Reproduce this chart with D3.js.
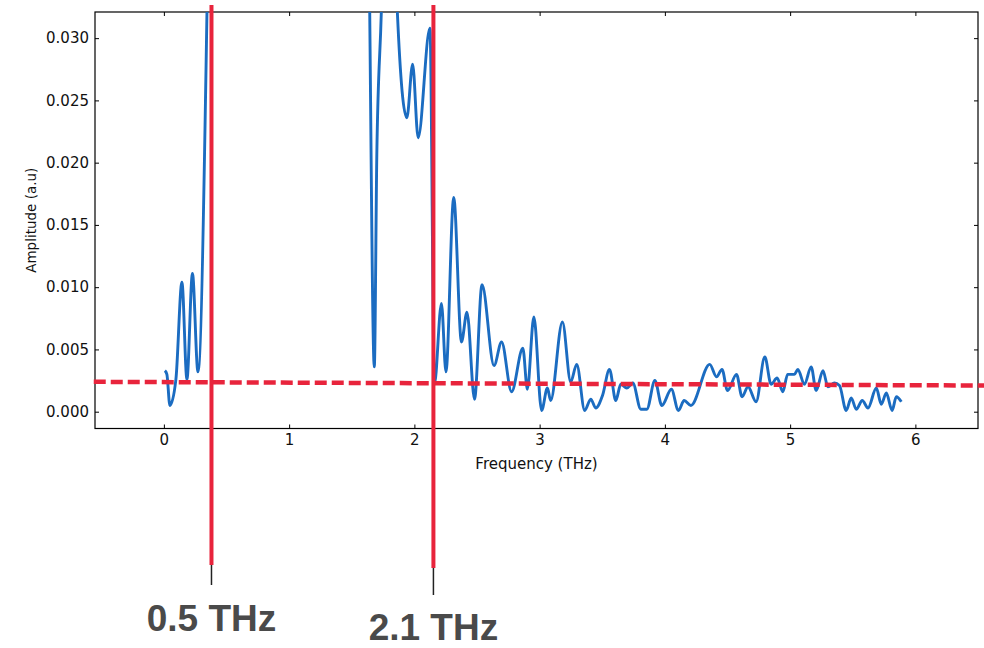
<!DOCTYPE html>
<html>
<head>
<meta charset="utf-8">
<script src="https://cdn.jsdelivr.net/npm/d3@7"></script>
<style>
  body { margin: 0; background: #fff; }
  svg { display: block; font-family: "DejaVu Sans", sans-serif; }
</style>
</head>
<body>
<svg id="chart" width="984" height="648"></svg>
<script>
// spectrum (THz, a.u); values above 0.032 run off the top of the plot
const freq = [0.008, 0.024, 0.048, 0.096, 0.144, 0.184, 0.228, 0.272, 0.344, 0.37, 0.5, 1.0, 1.6,
  1.64, 1.68, 1.70, 1.736, 1.8, 1.864, 1.94, 1.986, 2.03, 2.124,
  2.16, 2.216, 2.252, 2.314, 2.376, 2.42, 2.48, 2.54, 2.636, 2.696, 2.776, 2.866, 2.902, 2.954,
  3.016, 3.062, 3.088, 3.182, 3.248, 3.296, 3.36, 3.408, 3.448, 3.502, 3.558, 3.608, 3.648, 3.696,
  3.744, 3.808, 3.856, 3.92, 3.976, 4.052, 4.108, 4.154, 4.208, 4.358, 4.412, 4.456, 4.5, 4.572,
  4.616, 4.664, 4.728, 4.798, 4.848, 4.896, 4.942, 4.98, 5.034, 5.062, 5.114, 5.168, 5.208, 5.262,
  5.302, 5.354, 5.394, 5.448, 5.488, 5.528, 5.576, 5.622, 5.688, 5.728, 5.768, 5.814, 5.848, 5.888];
const amp = [0.0033, 0.0030, 0.0005, 0.0026, 0.0104, 0.0026, 0.0111, 0.0032, 0.0321, 0.05, 0.09, 0.15, 0.08,
  0.0356, 0.0036, 0.0206, 0.0321, 0.06, 0.0321, 0.0236, 0.0279, 0.0220, 0.0308,
  0.0022, 0.0087, 0.0032, 0.0172, 0.0056, 0.0080, 0.0010, 0.0102, 0.0037, 0.0056, 0.0016, 0.0051, 0.0018, 0.0076,
  0.0001, 0.0019, 0.0009, 0.0072, 0.0024, 0.0038, 0.0001, 0.0010, 0.0003, 0.0013, 0.0034, 0.0009, 0.0022, 0.0019,
  0.0023, 0.0002, 0.0002, 0.0025, 0.0005, 0.0018, 0.0001, 0.0009, 0.0005, 0.0038, 0.0028, 0.0034, 0.0017, 0.0030,
  0.0012, 0.0020, 0.0008, 0.0044, 0.0022, 0.0027, 0.0016, 0.0030, 0.0030, 0.0034, 0.0022, 0.0036, 0.0017, 0.0033,
  0.0020, 0.0023, 0.0021, 0.0001, 0.0011, 0.0002, 0.0009, 0.0003, 0.0019, 0.0006, 0.0015, 0.0001, 0.0012, 0.0008];

const xTicks = [0, 1, 2, 3, 4, 5, 6];
const yTicks = [0, 0.005, 0.01, 0.015, 0.02, 0.025, 0.03];

// noise threshold (dashed) and the two marked frequencies
const thresholdFreq = [-0.56, 6.55];
const thresholdAmp = [0.0024, 0.0021];
const markerFreq = [0.38, 2.152];
const markerLabels = ['0.5 THz', '2.1 THz'];

const plotLeft = 95, plotRight = 978, plotTop = 12, plotBottom = 428.5;

const x = d3.scaleLinear().domain([-0.55, 6.5]).range([plotLeft, plotRight]);
const y = d3.scaleLinear().domain([-0.00135, 0.0321]).range([plotBottom, plotTop]);

const svg = d3.select('#chart');

svg.append('clipPath').attr('id', 'plot-clip')
  .append('rect')
  .attr('x', plotLeft).attr('y', plotTop)
  .attr('width', plotRight - plotLeft).attr('height', plotBottom - plotTop);

// axes, matplotlib classic look: ticks inside on all four sides
const fmtY = d3.format('.3f');
svg.append('g')
  .attr('transform', `translate(0,${plotBottom})`)
  .call(d3.axisBottom(x).tickValues(xTicks).tickFormat(d3.format('d')).tickSizeInner(-4).tickSizeOuter(0).tickPadding(6));
svg.append('g')
  .attr('transform', `translate(0,${plotTop})`)
  .call(d3.axisTop(x).tickValues(xTicks).tickFormat('').tickSizeInner(-4).tickSizeOuter(0));
svg.append('g')
  .attr('transform', `translate(${plotLeft},0)`)
  .call(d3.axisLeft(y).tickValues(yTicks).tickFormat(fmtY).tickSizeInner(-4).tickSizeOuter(0).tickPadding(6));
svg.append('g')
  .attr('transform', `translate(${plotRight},0)`)
  .call(d3.axisRight(y).tickValues(yTicks).tickFormat('').tickSizeInner(-4).tickSizeOuter(0));

svg.selectAll('.domain').remove();
svg.selectAll('.tick line').attr('stroke', '#000');
svg.selectAll('.tick text').attr('font-size', 15).attr('fill', '#111').attr('font-family', '"DejaVu Sans", sans-serif');

svg.append('rect')
  .attr('x', plotLeft).attr('y', plotTop)
  .attr('width', plotRight - plotLeft).attr('height', plotBottom - plotTop)
  .attr('fill', 'none').attr('stroke', '#000').attr('stroke-width', 1.2);

svg.append('text')
  .attr('x', (plotLeft + plotRight) / 2).attr('y', 469)
  .attr('text-anchor', 'middle').attr('font-size', 15).attr('fill', '#111')
  .text('Frequency (THz)');
svg.append('text')
  .attr('transform', `translate(36,${(plotTop + plotBottom) / 2}) rotate(-90)`)
  .attr('text-anchor', 'middle').attr('font-size', 13.5).attr('fill', '#111')
  .text('Amplitude (a.u)');

// spectrum
const pts = freq.map((f, i) => [f, amp[i]]);
const line = d3.line().x(d => x(d[0])).y(d => y(d[1])).curve(d3.curveMonotoneX);
svg.append('path')
  .datum(pts)
  .attr('clip-path', 'url(#plot-clip)')
  .attr('d', line)
  .attr('fill', 'none')
  .attr('stroke', '#1b6cc1')
  .attr('stroke-width', 2.9)
  .attr('stroke-linejoin', 'round');

// dashed threshold
svg.append('path')
  .datum(thresholdFreq.map((f, i) => [f, thresholdAmp[i]]))
  .attr('d', d3.line().x(d => x(d[0])).y(d => y(d[1])))
  .attr('stroke', '#e8243c')
  .attr('stroke-width', 4.5)
  .attr('stroke-dasharray', '12,5');

// marker lines: red through the plot, a thin black tail, big grey label
const redEnd = [565, 568];
const tailEnd = [585, 595];
const labelY = [631, 640];
const markers = svg.selectAll('.marker')
  .data(markerFreq)
  .enter()
  .append('g')
  .attr('class', 'marker');

markers.append('line')
  .attr('x1', d => x(d)).attr('x2', d => x(d))
  .attr('y1', (d, i) => redEnd[i]).attr('y2', (d, i) => tailEnd[i])
  .attr('stroke', '#222').attr('stroke-width', 1.5);
markers.append('line')
  .attr('x1', d => x(d)).attr('x2', d => x(d))
  .attr('y1', 5).attr('y2', (d, i) => redEnd[i])
  .attr('stroke', '#e8243c').attr('stroke-width', 4);
markers.append('text')
  .attr('x', d => x(d)).attr('y', (d, i) => labelY[i])
  .attr('text-anchor', 'middle')
  .attr('font-family', '"Liberation Sans", Arial, sans-serif')
  .attr('font-weight', 'bold')
  .attr('font-size', 37)
  .attr('fill', '#4a4a4a')
  .text((d, i) => markerLabels[i]);
</script>
</body>
</html>
